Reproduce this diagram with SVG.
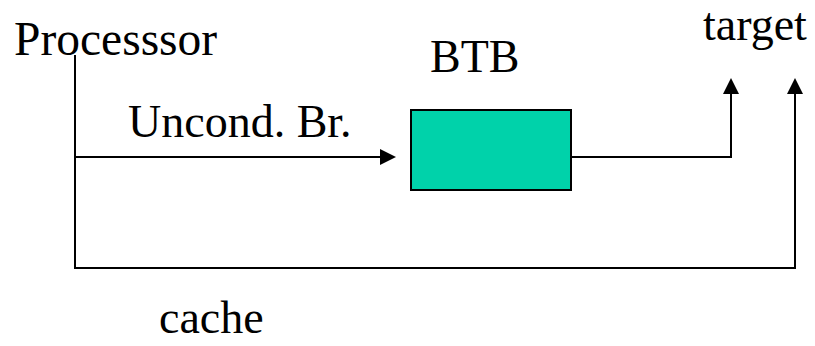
<svg xmlns="http://www.w3.org/2000/svg" width="815" height="346" viewBox="0 0 815 346">
  <style>
    .wire { fill: none; stroke: #000; stroke-width: 2; }
    .btb { fill: #00D2AA; stroke: #000; stroke-width: 2; }
  </style>
  <defs>
    <marker id="arrow" viewBox="0 0 16 16" refX="0" refY="8" markerWidth="16" markerHeight="16" markerUnits="userSpaceOnUse" orient="auto">
      <path d="M0,0 L16,8 L0,16 Z" fill="#000"/>
    </marker>
  </defs>

  <rect width="815" height="346" fill="#fff"/>

  <!-- connectors -->
  <g id="connectors">
    <!-- processor to cache bus, back up to target -->
    <path class="wire" d="M75,55 V268 H795 V94" marker-end="url(#arrow)"/>
    <!-- unconditional branch into the BTB -->
    <path class="wire" d="M75,157 H380" marker-end="url(#arrow)"/>
    <!-- BTB output to target -->
    <path class="wire" d="M571,157 H731 V94" marker-end="url(#arrow)"/>
  </g>

  <g font-family="Liberation Serif, DejaVu Serif, serif" font-size="46" fill="#000">
    <g id="processor">
      <text x="14" y="55" font-size="47.5">Processsor</text>
    </g>

    <g id="branch-label">
      <text x="128" y="137">Uncond. Br.</text>
    </g>

    <g id="btb">
      <rect class="btb" x="411" y="110" width="160" height="80"/>
      <text x="430" y="72">BTB</text>
    </g>

    <g id="target">
      <text x="703" y="40">target</text>
    </g>

    <g id="cache">
      <text x="159" y="333">cache</text>
    </g>
  </g>
</svg>
